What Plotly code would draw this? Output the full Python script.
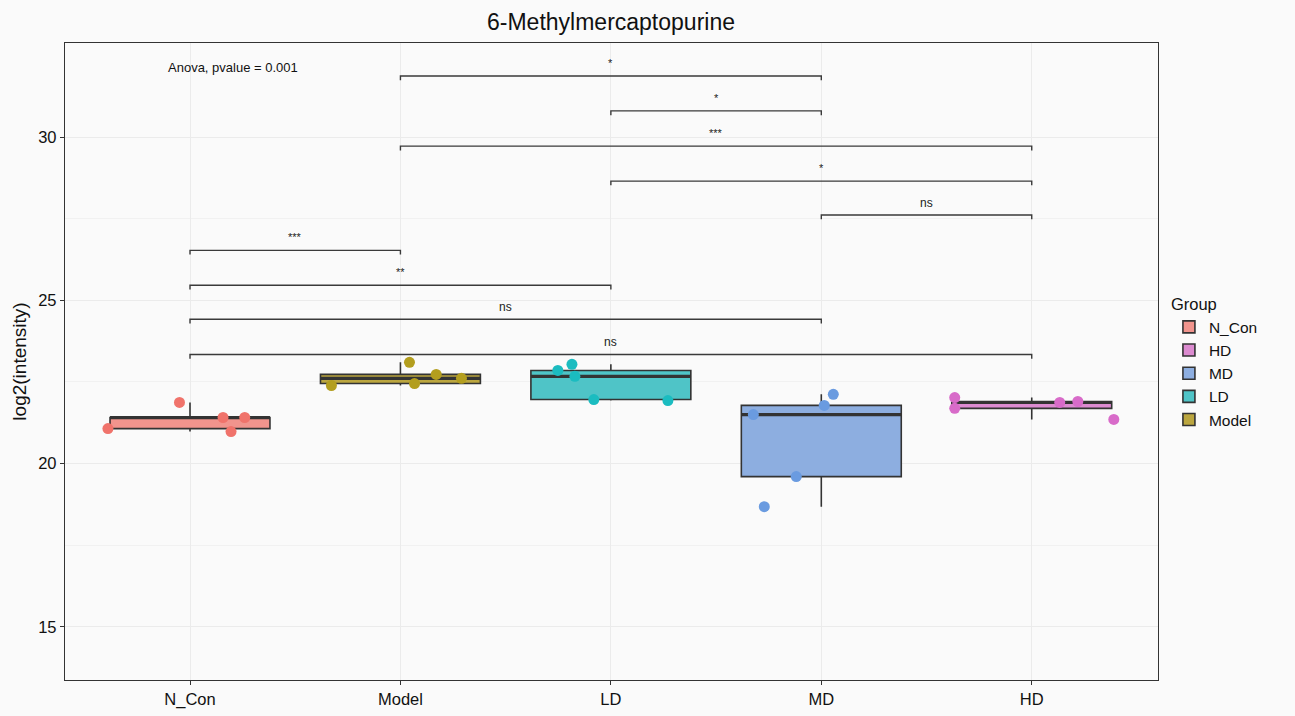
import numpy as np
import plotly.graph_objects as go

categories = ["N_Con", "Model", "LD", "MD", "HD"]
colors = {"N_Con": "#F0736B", "Model": "#B39E1E", "LD": "#1BBCC0", "MD": "#6A9BE0", "HD": "#D86BC9"}
box_fill = {"N_Con": "#F1948D", "Model": "#BBA63F", "LD": "#4FC4C7", "MD": "#8DAEE0", "HD": "#DC8BD0"}
legend_order = ["N_Con", "HD", "MD", "LD", "Model"]

values = {
    "N_Con": [21.87, 21.07, 21.41, 21.41, 20.98],
    "Model": [22.39, 23.10, 22.45, 22.73, 22.61],
    "LD":    [22.85, 23.04, 22.67, 21.96, 21.93],
    "MD":    [22.12, 21.78, 21.50, 19.60, 18.68],
    "HD":    [22.02, 21.69, 21.87, 21.90, 21.35],
}
jitter = {
    "N_Con": [-0.05, -0.39, 0.157, 0.26, 0.195],
    "Model": [-0.328, 0.043, 0.067, 0.17, 0.29],
    "LD":    [-0.252, -0.185, -0.171, -0.081, 0.271],
    "MD":    [0.057, 0.014, -0.323, -0.119, -0.271],
    "HD":    [-0.366, -0.366, 0.133, 0.219, 0.39],
}
comparisons = [("Model", "MD"), ("LD", "MD"), ("Model", "HD"), ("LD", "HD"), ("MD", "HD"),
               ("N_Con", "Model"), ("N_Con", "LD"), ("N_Con", "MD"), ("N_Con", "HD")]
bracket_y = [31.87, 30.80, 29.72, 28.65, 27.61, 26.53, 25.46, 24.42, 23.34]
bracket_labels = ["*", "*", "***", "*", "ns", "***", "**", "ns", "ns"]
anova_text = "Anova, pvalue = 0.001"

fig = go.Figure()
idx = {c: i for i, c in enumerate(categories)}

for c in legend_order:
    fig.add_trace(go.Box(
        x=[idx[c]] * len(values[c]), y=values[c], name=c, legendgroup=c,
        width=0.76, fillcolor=box_fill[c], whiskerwidth=0,
        line=dict(color="#333333", width=1.6), boxpoints=False,
        quartilemethod="inclusive", hoverinfo="skip",
    ))

for c in categories:
    m = float(np.median(values[c]))
    i = idx[c]
    fig.add_trace(go.Scatter(x=[i - 0.38, i + 0.38], y=[m, m], mode="lines",
                             line=dict(color="#333333", width=3.2), showlegend=False, hoverinfo="skip"))

for c in categories:
    xs = [idx[c] + j for j in jitter[c]]
    fig.add_trace(go.Scatter(x=xs, y=values[c], mode="markers",
                             marker=dict(color=colors[c], size=11, line=dict(width=0)),
                             showlegend=False, hoverinfo="skip"))

tip = 0.13
bx, by = [], []
for (a, b), yv in zip(comparisons, bracket_y):
    xa, xb = idx[a], idx[b]
    bx += [xa, xa, xb, xb, None]
    by += [yv - tip, yv, yv, yv - tip, None]
fig.add_trace(go.Scatter(x=bx, y=by, mode="lines", line=dict(color="#3a3a3a", width=1.4),
                         showlegend=False, hoverinfo="skip"))
for (a, b), yv, lab in zip(comparisons, bracket_y, bracket_labels):
    fig.add_annotation(x=(idx[a] + idx[b]) / 2, y=yv, text=lab, showarrow=False,
                       yanchor="bottom", yshift=5 if lab != "ns" else 3,
                       font=dict(size=12 if lab == "ns" else 11, color="#222222", family="Liberation Sans, Arial"))

fig.add_annotation(x=0.204, y=32.12, text=anova_text, showarrow=False,
                   font=dict(size=13, color="#111111", family="Liberation Sans, Arial"))

grid = "#EBEBEB"
fig.update_layout(
    width=1295, height=716,
    margin=dict(l=65, r=137, t=43, b=36, autoexpand=False),
    paper_bgcolor="#FAFAFA", plot_bgcolor="#FAFAFA",
    font=dict(family="Liberation Sans, Arial", color="#222222"),
    title=dict(text="6-Methylmercaptopurine", x=611 / 1295, xanchor="center",
               y=0.969, yanchor="middle", font=dict(size=23, color="#111111")),
    boxmode="overlay",
    showlegend=True,
    legend=dict(title=dict(text="Group", font=dict(size=16.5)), x=1.01, xanchor="left",
                y=0.614, yanchor="top", font=dict(size=15.5, color="#111111"),
                bgcolor="rgba(0,0,0,0)", tracegroupgap=0, itemwidth=30),
    xaxis=dict(range=[-0.594, 4.6], tickmode="array", tickvals=list(range(len(categories))),
               ticktext=categories, showgrid=True, gridcolor=grid, gridwidth=1, automargin=False,
               zeroline=False, showline=True, linecolor="#333333", linewidth=1.3, mirror=True,
               ticks="outside", ticklen=4, tickcolor="#333333",
               tickfont=dict(size=16.5, color="#111111")),
    yaxis=dict(range=[13.37, 32.88], tickmode="array", tickvals=[15, 20, 25, 30],
               showgrid=True, gridcolor=grid, gridwidth=1, automargin=False,
               minor=dict(tickvals=[17.5, 22.5, 27.5], showgrid=True, gridcolor="#F1F1F1", gridwidth=1),
               zeroline=False, showline=True, linecolor="#333333", linewidth=1.3, mirror=True,
               ticks="outside", ticklen=4, tickcolor="#333333",
               tickfont=dict(size=16.5, color="#111111"),
               title=dict(text="log2(intensity)", font=dict(size=19, color="#111111"), standoff=6)),
)
fig.write_html("out.html")
